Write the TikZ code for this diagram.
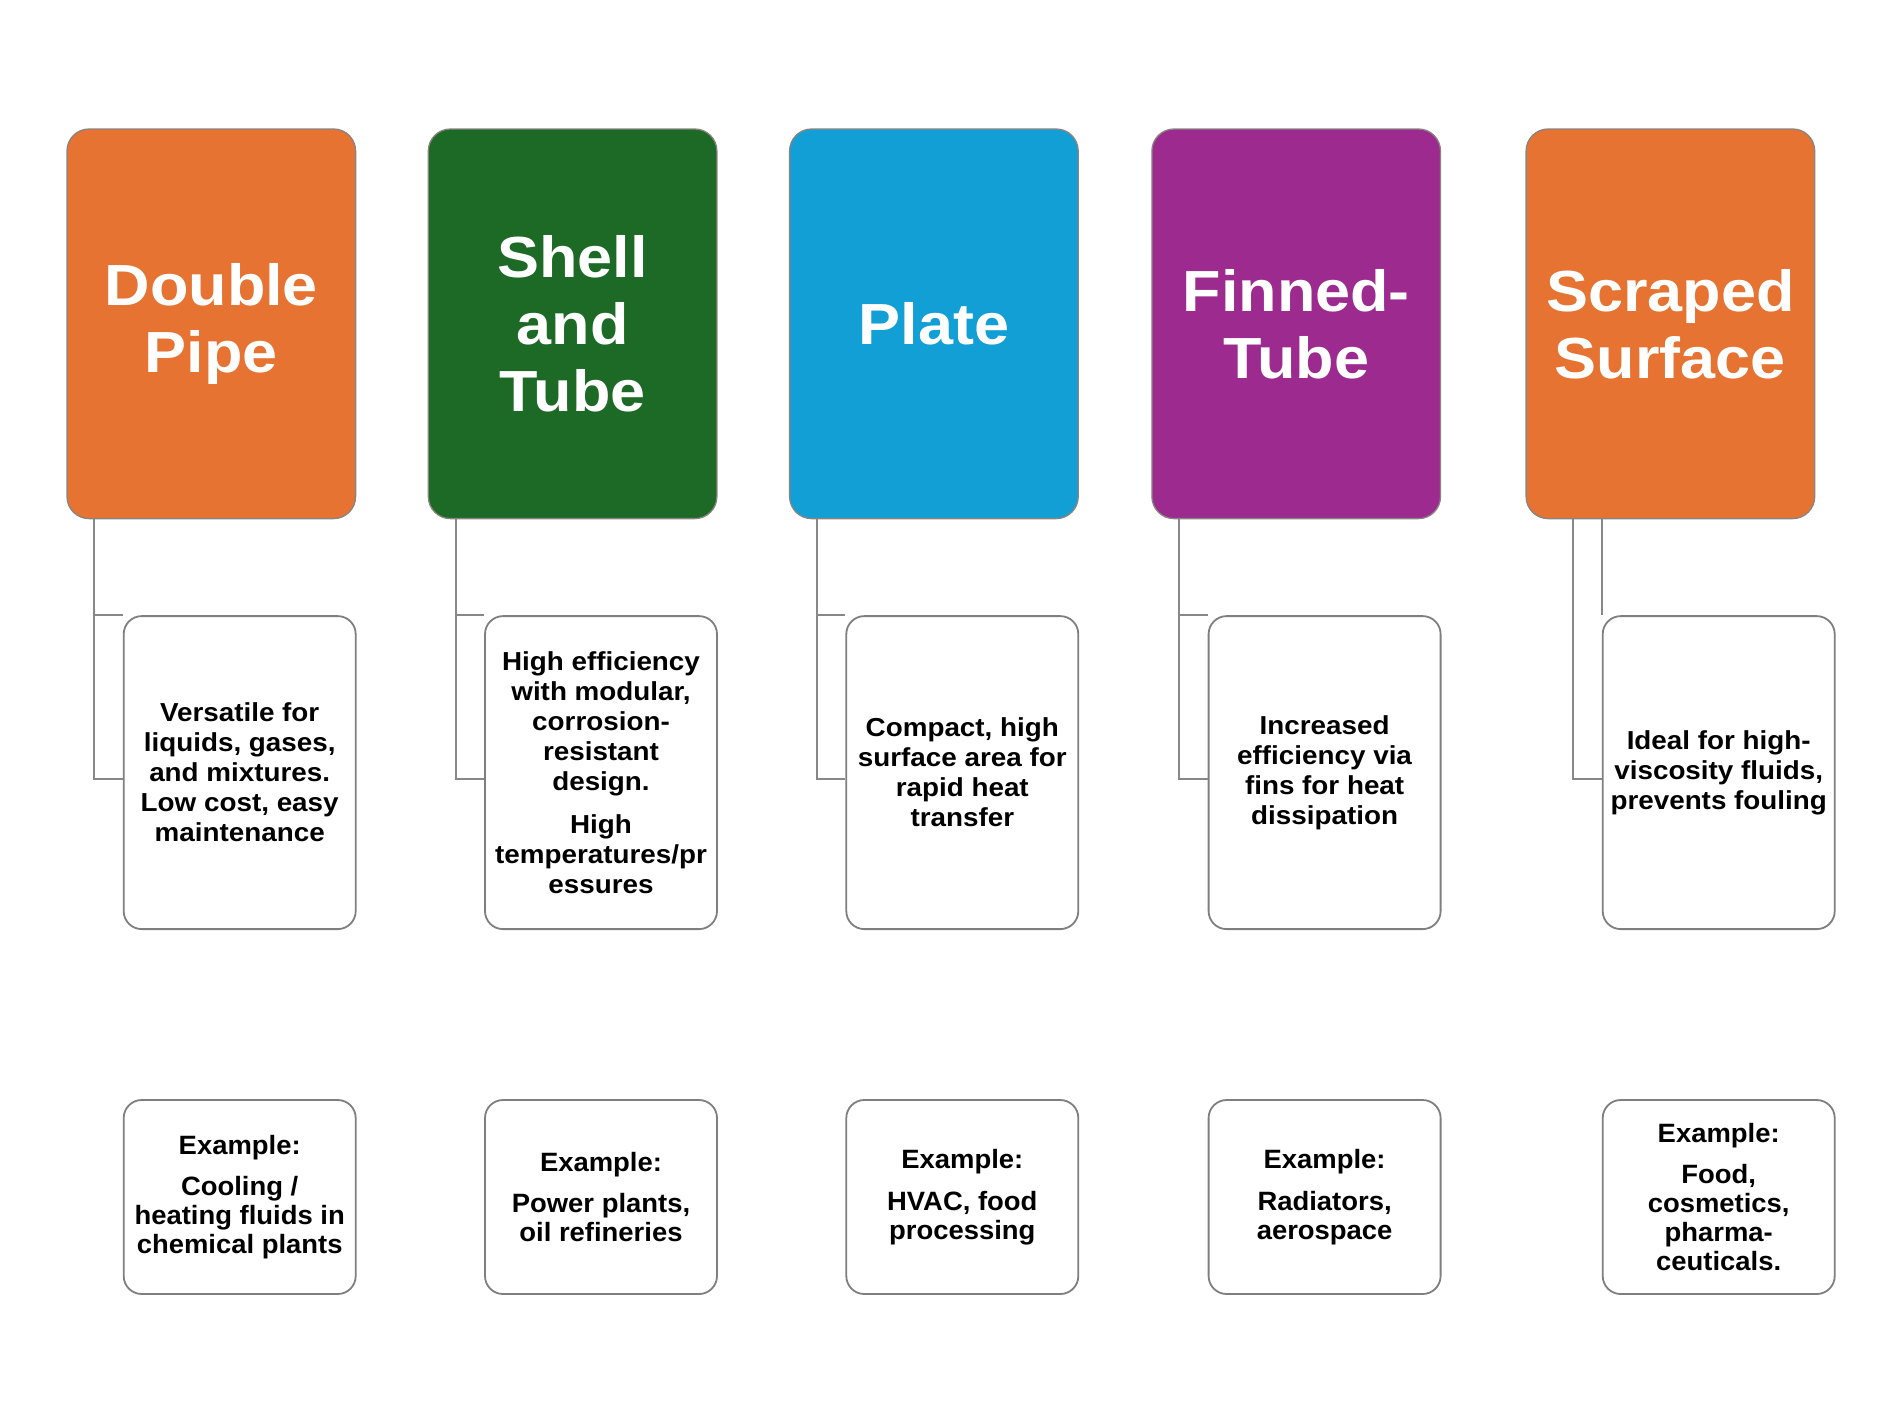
\documentclass[tikz,border=0pt]{standalone}
\usepackage{fontspec}
\setmainfont{Liberation Sans}
\newfontfamily\hdrfont{Liberation Sans}[FakeStretch=1.085]
\newfontfamily\dscfont{Liberation Sans}[FakeStretch=1.07]
\newfontfamily\exfont{Liberation Sans}[FakeStretch=1.035]
\definecolor{orangeA}{HTML}{E67332}
\definecolor{greenA}{HTML}{1D6A27}
\definecolor{blueA}{HTML}{129FD6}
\definecolor{purpleA}{HTML}{9D2A8F}
\definecolor{hdrline}{HTML}{8A8480}
\definecolor{boxline}{HTML}{7F7F7F}
\definecolor{connline}{HTML}{888888}
\begin{document}
\begin{tikzpicture}[x=1pt,y=-1pt,
  hdr/.style={rectangle, rounded corners=22pt, draw=hdrline, line width=1.3pt,
    minimum width=288.6pt, minimum height=389.6pt, inner sep=2pt, text=white,
    align=center, font=\hdrfont\bfseries\fontsize{58}{67}\selectfont},
  dsc/.style={rectangle, rounded corners=18pt, draw=boxline, line width=1.8pt,
    fill=white, minimum width=232pt, minimum height=313pt, inner sep=2pt,
    align=center, text=black, font=\dscfont\bfseries\fontsize{26}{30}\selectfont},
  exm/.style={dsc, minimum height=194pt,
    font=\exfont\bfseries\fontsize{26.5}{29}\selectfont},
  conn/.style={draw=connline, line width=2pt}]
\useasboundingbox (0,0) rectangle (1900,1425);

% header boxes
\node[hdr, fill=orangeA] (h1) at (211.3,323.8) {Double\\Pipe};
\node[hdr, fill=greenA]  (h2) at (572.6,323.8) {Shell\\and\\Tube};
\node[hdr, fill=blueA]   (h3) at (933.9,323.8) {Plate};
\node[hdr, fill=purpleA] (h4) at (1296.2,323.8) {Finned-\\Tube};
\node[hdr, fill=orangeA] (h5) at (1670.4,323.8) {Scraped\\Surface};

% description boxes
\node[dsc] (d1) at (239.7,772.6) {Versatile for\\liquids, gases,\\and mixtures.\\Low cost, easy\\maintenance};
\node[dsc] (d2) at (601,772.6) {High efficiency\\with modular,\\corrosion-\\resistant\\design.\\[12.5pt]High\\temperatures/pr\\essures};
\node[dsc] (d3) at (962.3,772.6) {Compact, high\\surface area for\\rapid heat\\transfer};
\node[dsc] (d4) at (1324.6,772.6) {Increased\\efficiency via\\fins for heat\\dissipation};
\node[dsc] (d5) at (1718.7,772.6) {Ideal for high-\\viscosity fluids,\\prevents fouling};

% example boxes
\node[exm] (e1) at (239.7,1197) {Example:\\[12.5pt]Cooling /\\heating fluids in\\chemical plants};
\node[exm] (e2) at (601,1197) {Example:\\[12.5pt]Power plants,\\oil refineries};
\node[exm] (e3) at (962.3,1197) {Example:\\[12.5pt]HVAC, food\\processing};
\node[exm] (e4) at (1324.6,1197) {Example:\\[12.5pt]Radiators,\\aerospace};
\node[exm] (e5) at (1718.7,1197) {Example:\\[12.5pt]Food,\\cosmetics,\\pharma-\\ceuticals.};

% connectors
\foreach \k in {1,2,3,4}{
  \draw[conn] ([xshift=28pt]h\k.south west) |- ([yshift=-6pt]d\k.west);
  \draw[conn] ([xshift=28pt]h\k.south west) |- (d\k.north west);
}
\draw[conn] ([xshift=48pt]h5.south west) |- ([yshift=-6pt]d5.west);
\draw[conn] (d5.north west |- h5.south) -- (d5.north west);
\end{tikzpicture}
\end{document}
